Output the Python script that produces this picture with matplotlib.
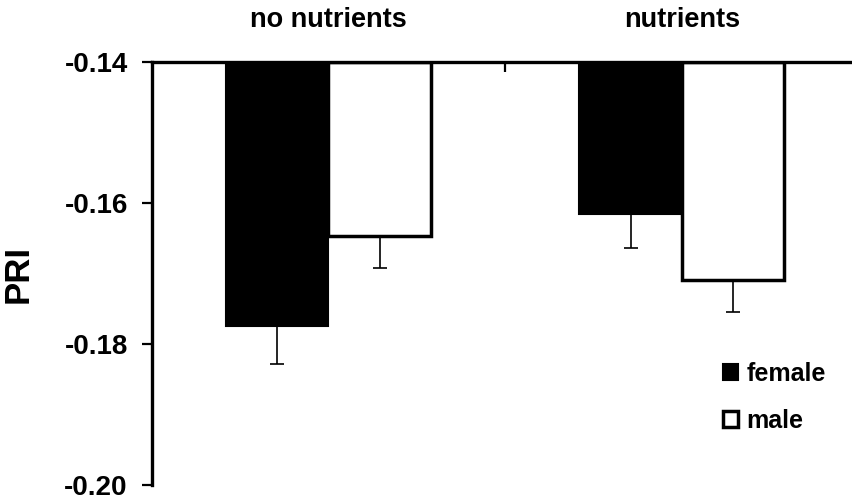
import matplotlib
matplotlib.use("Agg")
import matplotlib.pyplot as plt
from matplotlib.patches import Patch
import matplotlib.transforms as mtransforms
import numpy as np

plt.rcParams['font.family'] = ['Liberation Sans', 'DejaVu Sans']
plt.rcParams['font.weight'] = 'bold'

categories = ["no nutrients", "nutrients"]
series = ["female", "male"]
female_vals = [-0.1775, -0.1615]
male_vals = [-0.1646, -0.1709]
female_err = [0.0053, 0.0048]
male_err = [0.0046, 0.0045]
yticks = [-0.20, -0.18, -0.16, -0.14]
ytick_labels = ["-0.20", "-0.18", "-0.16", "-0.14"]
baseline = -0.14

fig = plt.figure(figsize=(8.53, 5.0), dpi=100)
ax = fig.add_axes([151.7/853, 0.03, 707/853, 0.8454])

x = np.arange(len(categories))
w = 0.29
fh = np.array(female_vals) - baseline
mh = np.array(male_vals) - baseline
ax.bar(x - w/2, fh, width=w, bottom=baseline, color='black', edgecolor='black',
       linewidth=1.5, zorder=2)
ax.bar(x + w/2, mh, width=w, bottom=baseline, color='white', edgecolor='black',
       linewidth=2.5, zorder=2)
ax.errorbar(x - w/2, female_vals, yerr=[female_err, [0, 0]], fmt='none',
            ecolor='black', elinewidth=1.2, capsize=5, capthick=1.2, zorder=1)
ax.errorbar(x + w/2, male_vals, yerr=[male_err, [0, 0]], fmt='none',
            ecolor='black', elinewidth=1.2, capsize=5, capthick=1.2, zorder=1)

ax.set_xlim(-0.5, 1.5)
ax.set_ylim(-0.20, -0.14)

for s in ['right', 'bottom']:
    ax.spines[s].set_visible(False)
ax.spines['left'].set_linewidth(2.4)
ax.spines['top'].set_linewidth(2.4)
ax.spines['top'].set_zorder(3)

ax.set_yticks(yticks)
ax.set_yticklabels(ytick_labels, fontsize=20, fontweight='bold')
ax.tick_params(axis='y', direction='out', length=7.2, width=1.6, pad=10)

ax.xaxis.set_ticks_position('top')
ax.set_xticks([0.5])
ax.set_xticklabels([])
ax.tick_params(axis='x', direction='in', length=7.2, width=1.6, top=True, bottom=False)

trans = mtransforms.blended_transform_factory(ax.transData, ax.transAxes)
for xi, c in zip(x, categories):
    ax.text(xi, 1.083, c, transform=trans, ha='center', va='baseline',
            fontsize=19.5, fontweight='bold')

ax.set_ylabel("PRI", fontsize=25, fontweight='bold')
ax.yaxis.set_label_coords(-0.165, 0.5)

handles = [Patch(facecolor='black', edgecolor='black', linewidth=1.5),
           Patch(facecolor='white', edgecolor='black', linewidth=2.5)]
leg = ax.legend(handles, series, loc='upper left',
                bbox_to_anchor=(723/853, 1 - 362/500), bbox_transform=fig.transFigure,
                frameon=False, fontsize=18, handlelength=0.6, handleheight=0.6,
                handletextpad=0.35, labelspacing=0.9, borderpad=0, borderaxespad=0)
for t in leg.get_texts():
    t.set_fontweight('bold')

fig.savefig("out.png", dpi=100)
